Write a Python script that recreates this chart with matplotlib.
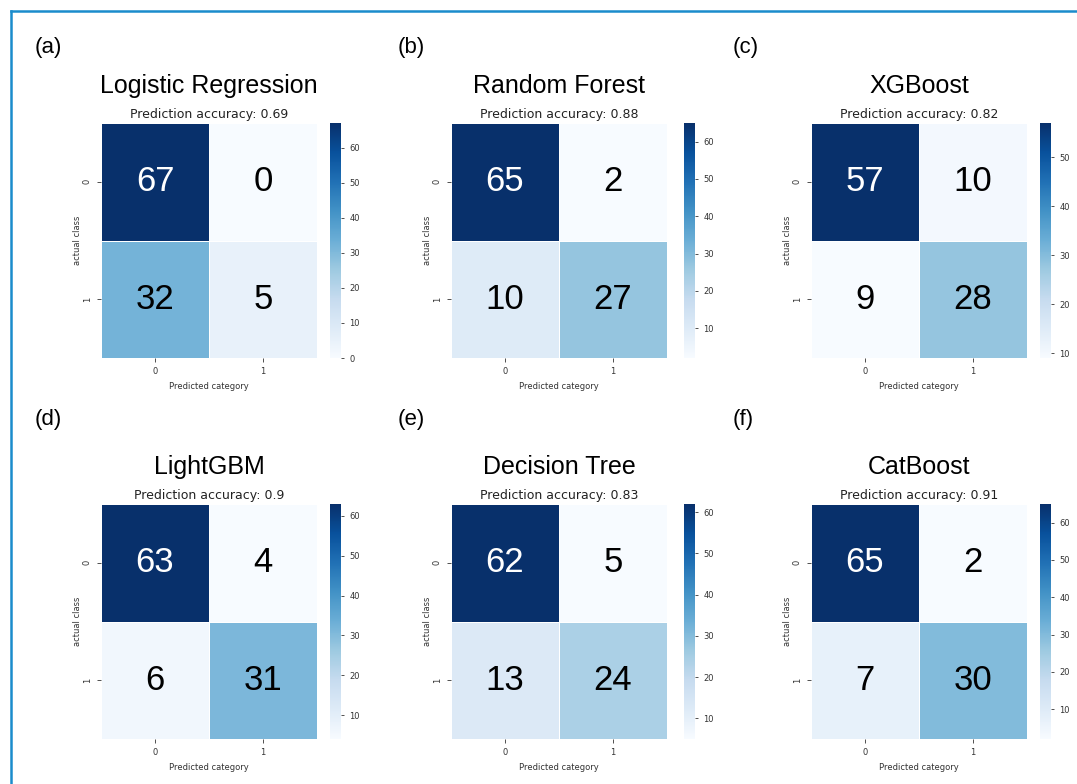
import matplotlib.pyplot as plt
import matplotlib.lines as mlines
import numpy as np

# Data
panel_labels = ["(a)", "(b)", "(c)", "(d)", "(e)", "(f)"]
models = ["Logistic Regression", "Random Forest", "XGBoost",
          "LightGBM", "Decision Tree", "CatBoost"]
accuracy = ["0.69", "0.88", "0.82", "0.9", "0.83", "0.91"]
cm_lr = [[67, 0], [32, 5]]
cm_rf = [[65, 2], [10, 27]]
cm_xgb = [[57, 10], [9, 28]]
cm_lgbm = [[63, 4], [6, 31]]
cm_dt = [[62, 5], [13, 24]]
cm_cat = [[65, 2], [7, 30]]
matrices = [cm_lr, cm_rf, cm_xgb, cm_lgbm, cm_dt, cm_cat]
class_labels = ["0", "1"]

W, H = 1077, 784
fig = plt.figure(figsize=(W / 100, H / 100), dpi=100)


def fx(x):
    return x / W


def fy(y):
    return 1 - y / H


# pixel layout of the grid
col_x = [101, 451, 811]
cbar_x = [330, 684, 1040]
row_y = [123, 504]
hm_w, hm_h = 216, 235
cb_w = 11
label_x = [35, 398, 733]
label_y = [48, 420]

for i, (cm, name, acc, lab) in enumerate(zip(matrices, models, accuracy, panel_labels)):
    r, c = divmod(i, 3)
    x0, y0 = col_x[c], row_y[r]
    ax = fig.add_axes([fx(x0), fy(y0 + hm_h), hm_w / W, hm_h / H])
    cax = fig.add_axes([fx(cbar_x[c]), fy(y0 + hm_h), cb_w / W, hm_h / H])

    data = np.array(cm)
    vmin, vmax = data.min(), data.max()
    mesh = ax.pcolormesh(data, cmap="Blues", vmin=vmin, vmax=vmax,
                         edgecolors="white", linewidth=0.6)
    ax.set_xlim(0, 2)
    ax.set_ylim(2, 0)
    for (yy, xx), v in np.ndenumerate(data):
        frac = (v - vmin) / (vmax - vmin)
        ax.text(xx + 0.5, yy + 0.5, str(v), ha="center", va="center",
                fontsize=25, family="Liberation Sans",
                color="white" if frac > 0.6 else "black")
    for s in ax.spines.values():
        s.set_visible(False)
    ax.set_xticks([0.5, 1.5])
    ax.set_xticklabels(class_labels)
    ax.set_yticks([0.5, 1.5])
    ax.set_yticklabels(class_labels, rotation=90, va="center")
    ax.tick_params(labelsize=6, length=3, width=0.6, colors="#333333")
    ax.set_xlabel("Predicted category", fontsize=6, color="#333333", labelpad=4)
    ax.set_ylabel("actual class", fontsize=6, color="#333333", labelpad=1)

    cb = fig.colorbar(mesh, cax=cax)
    cb.outline.set_visible(False)
    cb.ax.tick_params(labelsize=6, length=2.5, width=0.6, colors="#333333")

    cx = x0 + hm_w / 2
    fig.text(fx(cx), fy(y0 - 5), "Prediction accuracy: " + acc,
             ha="center", va="baseline", fontsize=9, color="#222222")
    fig.text(fx(cx), fy(y0 - 30), name, ha="center", va="baseline",
             fontsize=18, family="Liberation Sans")
    fig.text(fx(label_x[c]), fy(label_y[r]), lab, ha="left", va="center",
             fontsize=16, family="Liberation Sans")

# blue frame on top and left
frame_color = "#1a8ccc"
fig.add_artist(mlines.Line2D([fx(11), fx(11)], [0, fy(11)], color=frame_color, lw=1.8))
fig.add_artist(mlines.Line2D([fx(11), 1], [fy(11), fy(11)], color=frame_color, lw=1.8))

plt.savefig("out.png", dpi=100)
